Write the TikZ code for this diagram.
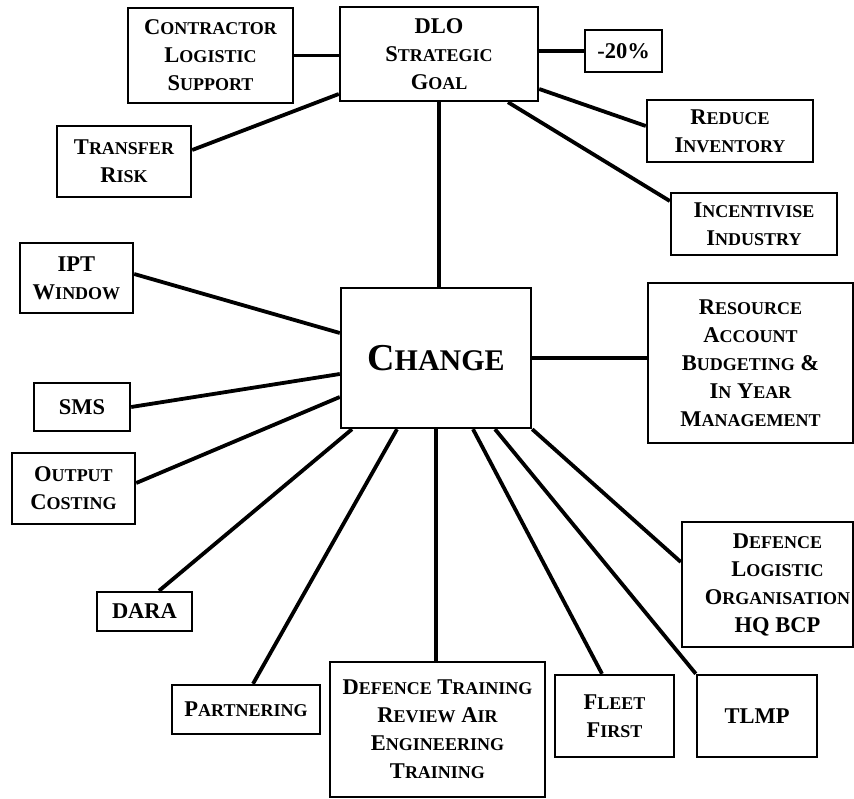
\documentclass[tikz,border=0pt]{standalone}
\usepackage{fontspec}
\setmainfont{Liberation Serif}
\newcommand{\Sm}[1]{{\fontsize{18}{28}\selectfont #1}}
\tikzset{
  box/.style={draw, line width=2.4pt, align=center, inner sep=0pt, font=\bfseries\fontsize{22.5}{28}\selectfont},
  conn/.style={line width=3.8pt}
}
\begin{document}
\begin{tikzpicture}[x=1pt,y=-1pt]
\useasboundingbox (0,0) rectangle (854,799);
% boxes
\node[box, minimum width=165, minimum height=95] (cls) at (210.5,55.5) {C\Sm{ONTRACTOR}\\L\Sm{OGISTIC}\\S\Sm{UPPORT}};
\node[box, minimum width=198, minimum height=94] (dlo) at (439,54) {DLO\\S\Sm{TRATEGIC}\\G\Sm{OAL}};
\node[box, minimum width=77, minimum height=42] (m20) at (623.5,51) {-20\%};
\node[box, minimum width=166, minimum height=62] (ri) at (730,131) {R\Sm{EDUCE}\\I\Sm{NVENTORY}};
\node[box, minimum width=166, minimum height=62] (ii) at (754,224) {I\Sm{NCENTIVISE}\\I\Sm{NDUSTRY}};
\node[box, minimum width=134, minimum height=71] (tr) at (124,161.5) {T\Sm{RANSFER}\\R\Sm{ISK}};
\node[box, minimum width=113, minimum height=70] (ipt) at (76.5,278) {IPT\\W\Sm{INDOW}};
\node[box, minimum width=190, minimum height=140, font=\bfseries\fontsize{38}{40}\selectfont] (change) at (436,358) {C{\fontsize{30}{40}\selectfont HANGE}};
\node[box, minimum width=205, minimum height=160] (rab) at (750.5,363) {R\Sm{ESOURCE}\\A\Sm{CCOUNT}\\B\Sm{UDGETING} \&\\I\Sm{N} Y\Sm{EAR}\\M\Sm{ANAGEMENT}};
\node[box, minimum width=96, minimum height=48] (sms) at (82,407) {SMS};
\node[box, minimum width=123, minimum height=71] (oc) at (73.5,488.5) {O\Sm{UTPUT}\\C\Sm{OSTING}};
\node[box, minimum width=95, minimum height=39] (dara) at (144.5,611.5) {DARA};
\node[box, minimum width=171, minimum height=125] (dlohq) at (767.5,584.5) {\hspace*{20pt}D\Sm{EFENCE}\\\hspace*{20pt}L\Sm{OGISTIC}\\\hspace*{20pt}O\Sm{RGANISATION}\\\hspace*{20pt}HQ BCP};
\node[box, minimum width=148, minimum height=49] (part) at (246,709.5) {P\Sm{ARTNERING}};
\node[box, minimum width=215, minimum height=135] (dtr) at (437.5,729.5) {D\Sm{EFENCE} T\Sm{RAINING}\\R\Sm{EVIEW} A\Sm{IR}\\E\Sm{NGINEERING}\\T\Sm{RAINING}};
\node[box, minimum width=119, minimum height=82] (ff) at (614.5,716) {F\Sm{LEET}\\F\Sm{IRST}};
\node[box, minimum width=120, minimum height=82] (tlmp) at (757,716) {TLMP};
% connectors
\draw[conn] (cls.east) -- (cls.east -| dlo.west);
\draw[conn] ([yshift=11.5pt]tr.east) -- ([yshift=-40pt]dlo.west);
\draw[conn] (m20.west -| dlo.east) -- (m20.west);
\draw[conn] ([yshift=-35pt]dlo.east) -- ([yshift=5pt]ri.west);
\draw[conn] ([xshift=69pt]dlo.south) -- ([yshift=23pt]ii.west);
\draw[conn] (dlo.south) -- (dlo.south |- change.north);
\draw[conn] ([yshift=4pt]ipt.east) -- ([yshift=25pt]change.west);
\draw[conn] (sms.east) -- ([yshift=-16pt]change.west);
\draw[conn] ([yshift=5.5pt]oc.east) -- ([yshift=-39pt]change.west);
\draw[conn] ([xshift=-84pt]change.south) -- ([xshift=14.5pt]dara.north);
\draw[conn] ([xshift=-39pt]change.south) -- ([xshift=7pt]part.north);
\draw[conn] (change.south) -- (change.south |- dtr.north);
\draw[conn] ([xshift=37pt]change.south) -- ([xshift=-12.5pt]ff.north);
\draw[conn] ([xshift=59pt]change.south) -- (tlmp.north west);
\draw[conn] (change.south east) -- ([yshift=22.5pt]dlohq.west);
\draw[conn] (change.east) -- (change.east -| rab.west);
\end{tikzpicture}
\end{document}
